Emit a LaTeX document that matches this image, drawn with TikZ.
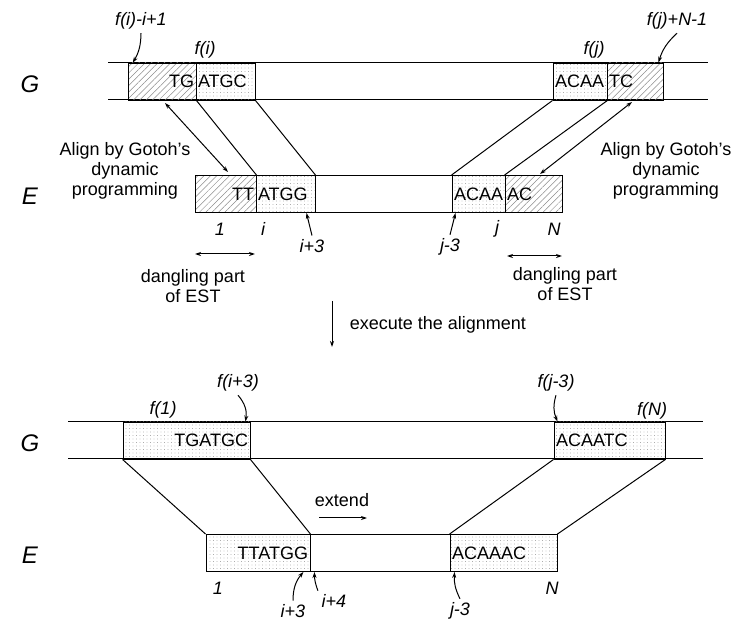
\documentclass[tikz,border=0pt]{standalone}
\usepackage{fontspec}
\setmainfont{Liberation Sans}
\usetikzlibrary{patterns.meta,arrows.meta}
\tikzset{
  seqbox/.style={draw,line width=0.9pt,minimum height=37pt,inner sep=2pt},
  hatchbox/.style={seqbox,pattern={Lines[angle=45,distance=4.5pt,line width=0.5pt]},pattern color=gray!90},
  dotbox/.style={seqbox,pattern={Dots[distance=3.5pt,radius=0.4pt]},pattern color=gray}
}
\begin{document}
\begin{tikzpicture}[x=1pt,y=-1pt,line width=1pt,
  >={Stealth[length=6pt,width=4pt]},
  every node/.style={font=\fontsize{18}{20}\selectfont},
  lbl/.style={font=\fontsize{18}{20}\selectfont\itshape},
  big/.style={font=\fontsize{24}{26}\selectfont\itshape}]
\useasboundingbox (0,0) rectangle (740,628);

% before the alignment
\coordinate (g1a) at (108,63);  \coordinate (g1b) at (708,63);
\coordinate (g2a) at (108,100); \coordinate (g2b) at (708,100);
\draw (g1a) -- (g1b);
\draw (g2a) -- (g2b);
\node[big] (G1) at (30,84) {G};
\node[big] (E1) at (30,196) {E};

\node[hatchbox,text width=64pt,align=right] (gTG) at (162,81.5) {TG};
\node[dotbox,text width=55pt,align=left] (gATGC) at (225.5,81.5) {ATGC};
\node[dotbox,text width=50pt,align=left] (gACAA) at (580,81.5) {ACAA};
\node[hatchbox,text width=52pt,align=left] (gTC) at (635,81.5) {TC};

\node[hatchbox,text width=57pt,align=right] (eTT) at (225.5,194) {TT};
\node[dotbox,text width=55pt,align=left] (eATGG) at (285.5,194) {ATGG};
\node[dotbox,text width=49pt,align=left] (eACAA) at (478.5,194) {ACAA};
\node[hatchbox,text width=53pt,align=left] (eAC) at (533.5,194) {AC};
\draw (eATGG.north east) -- (eACAA.north west);
\draw (eATGG.south east) -- (eACAA.south west);

\draw (gTG.south east) -- (eTT.north east);
\draw (gATGC.south east) -- (eATGG.north east);
\draw (gACAA.south west) -- (eACAA.north west);
\draw (gACAA.south east) -- (eAC.north west);

\node[lbl] (fstart) at (141,21) {f(i)-i+1};
\node[lbl] (fi) at (205,50) {f(i)};
\node[lbl] (fj) at (594,50) {f(j)};
\node[lbl] (fend) at (677,21) {f(j)+N-1};
\draw[->] (fstart.south) to[bend left=15] ([xshift=5pt]gTG.north west);
\draw[->] (fend.south) to[bend right=15] ([xshift=-5pt]gTC.north east);

\node[align=center] (alignL) at (125,171) {Align by Gotoh's\\dynamic\\programming};
\node[align=center] (alignR) at (666,171) {Align by Gotoh's\\dynamic\\programming};
\coordinate (aL1) at (165,103); \coordinate (aL2) at (228,172);
\coordinate (aR1) at (632,102); \coordinate (aR2) at (540,174);
\draw[<->] (aL1) -- (aL2);
\draw[<->] (aR1) -- (aR2);

\node[lbl] (one1) at (220,229) {1};
\node[lbl] (i1) at (263,229) {i};
\node[lbl] (ip3) at (312,246) {i+3};
\node[lbl] (jm3) at (450,247) {j-3};
\node[lbl] (j1) at (497,229) {j};
\node[lbl] (n1) at (554,229) {N};
\draw[->] (ip3.north) -- ([xshift=-9pt]eATGG.south east);
\draw[->] (jm3.north) -- ([xshift=4pt]eACAA.south west);

\coordinate (dL1) at (195,254); \coordinate (dL2) at (255,254);
\coordinate (dR1) at (507,256); \coordinate (dR2) at (562,256);
\draw[<->] (dL1) -- (dL2);
\draw[<->] (dR1) -- (dR2);
\node[align=center] (dangL) at (193,286) {dangling part\\of EST};
\node[align=center] (dangR) at (565,284) {dangling part\\of EST};

% execute
\coordinate (ex1) at (332,301); \coordinate (ex2) at (332,347);
\draw[->] (ex1) -- (ex2);
\node[anchor=west] (exec) at (346,325) {execute the alignment};

% after the alignment
\coordinate (g3a) at (68,422);  \coordinate (g3b) at (703,422);
\coordinate (g4a) at (68,459);  \coordinate (g4b) at (703,459);
\draw (g3a) -- (g3b);
\draw (g4a) -- (g4b);
\node[big] (G2) at (30,443) {G};
\node[big] (E2) at (30,555) {E};

\node[dotbox,text width=123pt,align=right] (gTGATGC) at (186.5,440.5) {TGATGC};
\node[dotbox,text width=107pt,align=left] (gACAATC) at (609.5,440.5) {ACAATC};
\node[dotbox,text width=100pt,align=right] (eTTATGG) at (258,553) {TTATGG};
\node[dotbox,text width=103pt,align=left] (eACAAAC) at (503.5,553) {ACAAAC};
\draw (eTTATGG.north east) -- (eACAAAC.north west);
\draw (eTTATGG.south east) -- (eACAAAC.south west);

\draw (gTGATGC.south west) -- (eTTATGG.north west);
\draw (gTGATGC.south east) -- (eTTATGG.north east);
\draw (gACAATC.south west) -- (eACAAAC.north west);
\draw (gACAATC.south east) -- (eACAAAC.north east);

\node[lbl] (f1) at (163,410) {f(1)};
\node[lbl] (fi3) at (238,383) {f(i+3)};
\node[lbl] (fj3) at (556,383) {f(j-3)};
\node[lbl] (fN) at (652,411) {f(N)};
\draw[->] (fi3.south) to[bend left=25] ([xshift=-5pt]gTGATGC.north east);
\draw[->] (fj3.south) to[bend right=20] ([xshift=4pt]gACAATC.north west);

\node (ext) at (342,500) {extend};
\coordinate (ex3) at (319,518); \coordinate (ex4) at (367,518);
\draw[->] (ex3) -- (ex4);

\node[lbl] (one2) at (218,588) {1};
\node[lbl] (ip3b) at (293,611) {i+3};
\node[lbl] (ip4) at (334,601) {i+4};
\node[lbl] (jm3b) at (460,611) {j-3};
\node[lbl] (n2) at (552,588) {N};
\draw[->] (ip3b.north) to[bend left=20] ([xshift=-7pt]eTTATGG.south east);
\draw[->] (ip4.north west) to[bend left=10] ([xshift=4pt]eTTATGG.south east);
\draw[->] (jm3b.north) to[bend left=15] ([xshift=5pt]eACAAAC.south west);
\end{tikzpicture}
\end{document}
